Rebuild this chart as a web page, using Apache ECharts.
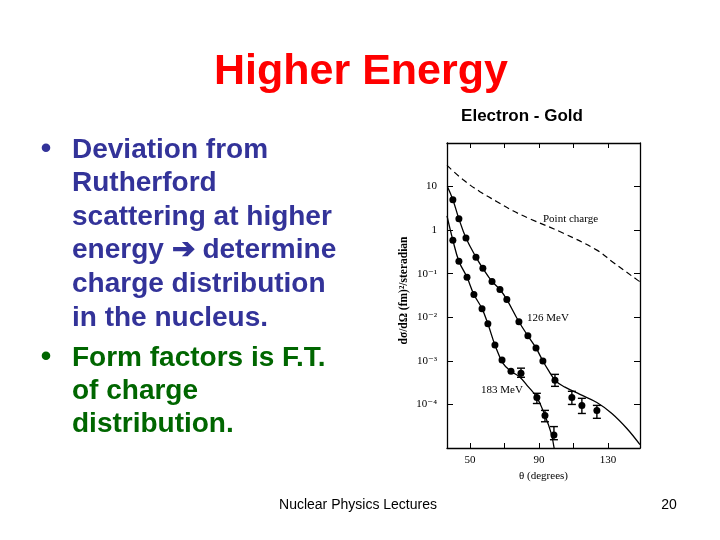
<!DOCTYPE html>
<html>
<head>
<meta charset="utf-8">
<script src="https://cdn.jsdelivr.net/npm/echarts@6/dist/echarts.min.js"></script>
<style>
html,body{margin:0;padding:0;background:#fff;}
#chart{width:720px;height:540px;}
</style>
</head>
<body>
<div id="chart"></div>
<script>
// ---- data ----
// Point charge (dashed) curve
const pointChargeDeg = [36.7, 45.9, 55.8, 65.7, 74.9, 84.8, 103.9, 123.6, 132.9, 147.4, 148.6];
const pointChargeVal = [30.6, 14.5, 7.65, 4.5, 2.78, 1.82, 0.86, 0.348, 0.184, 0.0703, 0.066];

// 126 MeV theoretical curve
const curve126Deg = [36.9, 40.1, 43.6, 47.7, 53.5, 57.5, 62.8, 67.4, 71.4, 78.4, 83.6, 88.3, 92.3, 95.8, 99.9, 105.1, 113.8, 123.6, 132.3, 141.0, 148.6];
const curve126Val = [10, 5.0, 1.82, 0.66, 0.24, 0.133, 0.0667, 0.0435, 0.0255, 0.0079, 0.00375, 0.00198, 9.9e-4, 5.8e-4, 3.4e-4, 2.5e-4, 1.7e-4, 1.11e-4, 6.2e-5, 2.8e-5, 1.19e-5];

// 126 MeV measured points
const data126Deg = [40.1, 43.6, 47.7, 53.5, 57.5, 62.8, 67.4, 71.4, 78.4, 83.6, 88.3, 92.3, 99.3, 109.1, 114.9, 123.6];
const data126Val = [5.0, 1.82, 0.66, 0.24, 0.133, 0.0667, 0.0435, 0.0255, 0.0079, 0.00375, 0.00198, 9.9e-4, 3.6e-4, 1.45e-4, 9.5e-5, 7.3e-5];
const err126Deg = [99.3, 109.1, 114.9, 123.6];
const err126Low = [2.6e-4, 1.0e-4, 6.2e-5, 4.8e-5];
const err126High = [4.9e-4, 2.0e-4, 1.38e-4, 9.5e-5];

// 183 MeV theoretical curve
const curve183Deg = [36.7, 40.1, 43.6, 48.3, 52.3, 57.0, 60.4, 64.5, 69.1, 73.8, 79.0, 83.6, 88.8, 93.5, 97.0, 98.8];
const curve183Val = [2.13, 0.59, 0.194, 0.0826, 0.0334, 0.0158, 0.0071, 0.00232, 8.9e-4, 5.8e-4, 4.2e-4, 2.6e-4, 1.45e-4, 5.6e-5, 2.25e-5, 1.0e-5];

// 183 MeV measured points
const data183Deg = [40.1, 43.6, 48.3, 52.3, 57.0, 60.4, 64.5, 68.6, 73.8, 79.6, 88.8, 93.5, 98.7];
const data183Val = [0.59, 0.194, 0.0826, 0.0334, 0.0158, 0.0071, 0.00232, 0.00104, 5.8e-4, 5.2e-4, 1.45e-4, 5.6e-5, 2.0e-5];
const err183Deg = [79.6, 88.8, 93.5, 98.7];
const err183Low = [4.2e-4, 1.05e-4, 4.0e-5, 1.55e-5];
const err183High = [6.8e-4, 1.8e-4, 7.3e-5, 3.1e-5];

// axis ticks / labels
const xTickValues = [50, 70, 90, 110, 130];
const xLabelValues = [50, 90, 130];
const yLabelMap = {'1': '10', '0': '1', '-1': '10⁻¹', '-2': '10⁻²', '-3': '10⁻³', '-4': '10⁻⁴'};

// ---- build ----
const zip = (a, b) => a.map((v, i) => [v, b[i]]);
const errData = [].concat(
  err126Deg.map((d, i) => [d, err126Low[i], err126High[i]]),
  err183Deg.map((d, i) => [d, err183Low[i], err183High[i]])
);

const serif = "'Liberation Serif','DejaVu Serif',serif";
const sans = "'Liberation Sans',Arial,sans-serif";
const ink = '#000';

const chart = echarts.init(document.getElementById('chart'), null, {renderer: 'canvas'});

const axisCommon = {
  axisLine: {show: true, onZero: false, lineStyle: {color: ink, width: 1.3}},
  splitLine: {show: false},
};

const option = {
  backgroundColor: '#fff',
  animation: false,
  grid: {left: 447, top: 143, right: 80, bottom: 92, containLabel: false},
  xAxis: [
    Object.assign({
      type: 'value', min: 36.7, max: 148.6, position: 'bottom',
      axisTick: {show: true, inside: true, length: 5, customValues: xTickValues, lineStyle: {color: ink}},
      axisLabel: {show: true, customValues: xLabelValues, color: ink, fontFamily: serif, fontSize: 11, margin: 7},
      name: 'θ (degrees)', nameLocation: 'middle', nameGap: 20,
      nameTextStyle: {color: ink, fontFamily: serif, fontSize: 11}
    }, axisCommon),
    Object.assign({
      type: 'value', min: 36.7, max: 148.6, position: 'top',
      axisTick: {show: true, inside: true, length: 5, customValues: xTickValues, lineStyle: {color: ink}},
      axisLabel: {show: false}
    }, axisCommon)
  ],
  yAxis: [
    Object.assign({
      type: 'log', logBase: 10, min: 1e-5, max: 100, interval: 1, position: 'left',
      axisTick: {show: true, inside: true, length: 6, lineStyle: {color: ink}},
      axisLabel: {
        color: ink, fontFamily: serif, fontSize: 11, margin: 10,
        formatter: function (v) {
          const e = Math.round(Math.log10(v));
          return yLabelMap[String(e)] || '';
        }
      },
      name: 'dσ/dΩ (fm)²/steradian', nameLocation: 'middle', nameRotate: 90, nameGap: 37,
      nameTextStyle: {color: ink, fontFamily: serif, fontSize: 11.5, fontWeight: 'bold', padding: [0, 0, 0, 10]}
    }, axisCommon),
    Object.assign({
      type: 'log', logBase: 10, min: 1e-5, max: 100, interval: 1, position: 'right',
      axisTick: {show: true, inside: true, length: 6, lineStyle: {color: ink}},
      axisLabel: {show: false}
    }, axisCommon)
  ],
  series: [
    {
      name: 'Point charge', type: 'line', smooth: 0.4, showSymbol: false, clip: true,
      data: zip(pointChargeDeg, pointChargeVal),
      lineStyle: {color: ink, width: 1.2, type: [6, 4]}
    },
    {
      name: '126 MeV', type: 'line', smooth: 0.4, showSymbol: false, clip: true,
      data: zip(curve126Deg, curve126Val),
      lineStyle: {color: ink, width: 1.3}
    },
    {
      name: '183 MeV', type: 'line', smooth: 0.4, showSymbol: false, clip: true,
      data: zip(curve183Deg, curve183Val),
      lineStyle: {color: ink, width: 1.3}
    },
    {
      name: '126 MeV data', type: 'scatter', symbol: 'circle', symbolSize: 7,
      data: zip(data126Deg, data126Val), itemStyle: {color: ink, opacity: 1}
    },
    {
      name: '183 MeV data', type: 'scatter', symbol: 'circle', symbolSize: 7,
      data: zip(data183Deg, data183Val), itemStyle: {color: ink, opacity: 1}
    },
    {
      name: 'errors', type: 'custom', data: errData,
      renderItem: function (params, api) {
        const x = api.value(0);
        const lo = api.coord([x, api.value(1)]);
        const hi = api.coord([x, api.value(2)]);
        const w = 4;
        const st = {stroke: ink, lineWidth: 1.4};
        return {
          type: 'group',
          children: [
            {type: 'line', shape: {x1: lo[0], y1: lo[1], x2: hi[0], y2: hi[1]}, style: st},
            {type: 'line', shape: {x1: lo[0] - w, y1: lo[1], x2: lo[0] + w, y2: lo[1]}, style: st},
            {type: 'line', shape: {x1: hi[0] - w, y1: hi[1], x2: hi[0] + w, y2: hi[1]}, style: st}
          ]
        };
      }
    }
  ],
  graphic: [
    {type: 'text', x: 361, y: 72, style: {text: 'Higher Energy', fill: '#ff0000', font: 'bold 43px ' + sans, textAlign: 'center', textVerticalAlign: 'middle'}},
    {type: 'text', x: 522, y: 116, style: {text: 'Electron - Gold', fill: '#000', font: 'bold 17px ' + sans, textAlign: 'center', textVerticalAlign: 'middle'}},
    {type: 'text', x: 46, y: 150, style: {text: '•', fill: '#333399', font: 'bold 30px ' + sans, textAlign: 'center', textVerticalAlign: 'middle'}},
    {type: 'text', x: 72, y: 133, style: {
      text: 'Deviation from\nRutherford\nscattering at higher\nenergy ➔ determine\ncharge distribution\nin the nucleus.',
      fill: '#333399', font: 'bold 28px ' + sans, lineHeight: 33.6, textAlign: 'left', textVerticalAlign: 'top'}},
    {type: 'text', x: 46, y: 358, style: {text: '•', fill: '#006600', font: 'bold 30px ' + sans, textAlign: 'center', textVerticalAlign: 'middle'}},
    {type: 'text', x: 72, y: 341.5, style: {
      text: 'Form factors is F.T.\nof charge\ndistribution.',
      fill: '#006600', font: 'bold 28px ' + sans, lineHeight: 33, textAlign: 'left', textVerticalAlign: 'top'}},
    {type: 'text', x: 543, y: 219, style: {text: 'Point charge', fill: ink, font: '11px ' + serif, textAlign: 'left', textVerticalAlign: 'middle'}},
    {type: 'text', x: 527, y: 318, style: {text: '126 MeV', fill: ink, font: '11px ' + serif, textAlign: 'left', textVerticalAlign: 'middle'}},
    {type: 'text', x: 481, y: 390, style: {text: '183 MeV', fill: ink, font: '11px ' + serif, textAlign: 'left', textVerticalAlign: 'middle'}},
    {type: 'text', x: 358, y: 505, style: {text: 'Nuclear Physics Lectures', fill: '#000', font: '14px ' + sans, textAlign: 'center', textVerticalAlign: 'middle'}},
    {type: 'text', x: 669, y: 505, style: {text: '20', fill: '#000', font: '14px ' + sans, textAlign: 'center', textVerticalAlign: 'middle'}}
  ]
};
chart.setOption(option);
</script>
</body>
</html>
